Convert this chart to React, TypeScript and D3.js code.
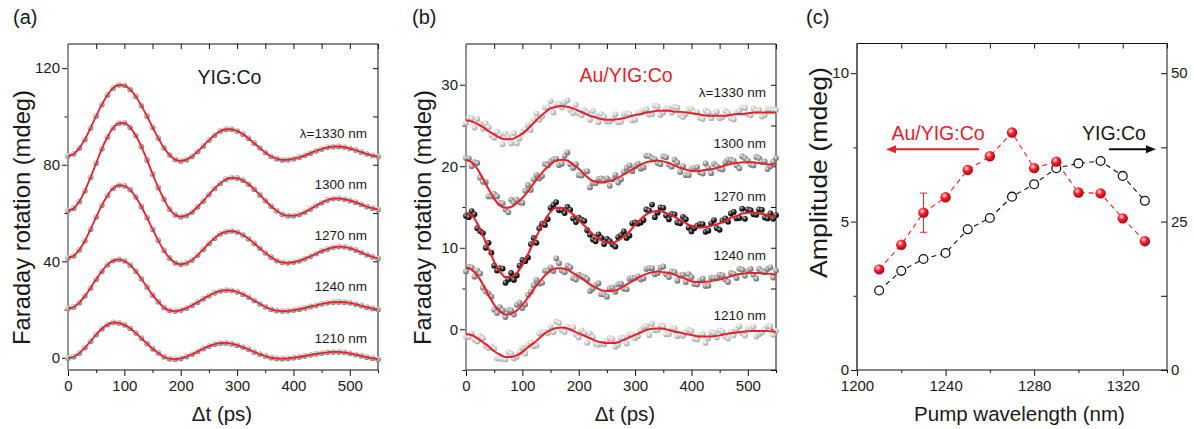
import React, { useEffect, useRef } from "react";
import * as d3 from "d3";

// pump-probe delay grids (ps), shared by panels (a) and (b)
const delays = d3.range(0, 551, 10);
const halfDelays = d3.range(5, 550, 10);

const waveLabels = ["λ=1330 nm", "1300 nm", "1270 nm", "1240 nm", "1210 nm"];

// (a) YIG:Co - traces (mdeg), points lie on the fit
const yig1330 = [83.7, 84.5, 86.9, 90.5, 95.2, 100.2, 104.9, 108.9, 111.8, 113.1, 112.9, 111.2, 108.4, 104.5, 100.2, 95.5, 91.1, 87.1, 84.1, 82.2, 81.6, 82.1, 83.5, 85.5, 87.8, 90.2, 92.3, 94.0, 94.7, 94.7, 94.0, 92.7, 91.0, 89.0, 87.0, 85.1, 83.5, 82.5, 82.0, 82.1, 82.5, 83.1, 83.9, 84.8, 85.8, 86.5, 87.2, 87.5, 87.6, 87.3, 86.8, 86.1, 85.3, 84.5, 83.9, 83.4];
const yig1300 = [61.0, 62.0, 64.8, 69.2, 74.8, 80.7, 86.6, 91.5, 95.3, 97.2, 97.3, 95.5, 92.2, 87.6, 82.1, 76.2, 70.6, 65.8, 61.7, 59.3, 58.5, 59.0, 60.4, 62.6, 65.0, 67.7, 70.2, 72.3, 74.0, 74.7, 74.5, 73.6, 72.0, 69.9, 67.6, 65.2, 62.9, 61.0, 59.5, 58.9, 58.9, 59.4, 60.4, 61.7, 63.1, 64.3, 65.4, 66.0, 66.1, 65.8, 65.2, 64.5, 63.6, 62.7, 62.0, 61.5];
const yig1270 = [41.5, 42.3, 44.8, 48.5, 53.3, 58.4, 63.2, 67.3, 70.3, 71.6, 71.3, 69.7, 66.7, 62.7, 58.2, 53.3, 48.7, 44.6, 41.4, 39.4, 38.8, 39.3, 40.6, 42.6, 45.0, 47.4, 49.6, 51.4, 52.3, 52.6, 52.1, 51.0, 49.4, 47.5, 45.5, 43.5, 41.8, 40.3, 39.6, 39.4, 39.7, 40.2, 41.1, 42.1, 43.2, 44.3, 45.1, 45.8, 46.1, 46.0, 45.5, 44.7, 43.7, 42.7, 41.9, 41.2];
const yig1240 = [20.5, 21.1, 22.9, 25.7, 29.0, 32.6, 35.9, 38.6, 40.3, 40.8, 40.2, 38.5, 36.0, 32.8, 29.4, 26.1, 23.3, 20.9, 19.7, 19.4, 19.8, 20.6, 21.8, 23.1, 24.5, 25.8, 27.0, 27.8, 28.1, 28.0, 27.4, 26.4, 25.2, 23.8, 22.4, 21.2, 20.2, 19.6, 19.4, 19.5, 19.8, 20.2, 20.7, 21.3, 21.8, 22.4, 22.8, 23.1, 23.2, 23.1, 22.8, 22.3, 21.7, 21.0, 20.5, 20.1];
const yig1210 = [0.0, 0.5, 2.0, 4.3, 6.9, 9.7, 12.1, 13.8, 14.7, 14.5, 13.7, 12.3, 10.4, 8.2, 6.0, 3.8, 2.1, 0.5, -0.3, -0.5, -0.2, 0.6, 1.5, 2.7, 3.9, 4.9, 5.7, 6.1, 6.2, 5.9, 5.3, 4.5, 3.6, 2.5, 1.6, 0.8, 0.1, -0.2, -0.3, -0.2, 0.1, 0.4, 0.8, 1.3, 1.7, 2.0, 2.3, 2.5, 2.5, 2.3, 1.9, 1.4, 0.9, 0.3, -0.1, -0.5];

// (b) Au/YIG:Co - fitted curves (mdeg)
const auFit1330 = [25.6, 25.5, 25.2, 24.8, 24.3, 23.9, 23.5, 23.3, 23.3, 23.6, 24.0, 24.6, 25.3, 26.0, 26.6, 27.1, 27.3, 27.4, 27.3, 27.1, 26.8, 26.5, 26.2, 26.0, 25.8, 25.7, 25.7, 25.8, 25.9, 26.1, 26.3, 26.4, 26.6, 26.7, 26.8, 26.8, 26.8, 26.7, 26.7, 26.6, 26.5, 26.4, 26.3, 26.2, 26.2, 26.2, 26.2, 26.3, 26.4, 26.4, 26.5, 26.6, 26.6, 26.6, 26.6, 26.6];
const auFit1300 = [20.8, 20.5, 19.7, 18.5, 17.2, 16.0, 15.2, 14.9, 15.0, 15.5, 16.1, 16.9, 17.9, 18.8, 19.6, 20.2, 20.7, 20.8, 20.7, 20.2, 19.7, 19.0, 18.4, 18.1, 18.0, 18.1, 18.3, 18.6, 19.0, 19.4, 19.8, 20.2, 20.5, 20.6, 20.7, 20.6, 20.4, 20.1, 19.8, 19.6, 19.4, 19.4, 19.5, 19.6, 19.7, 19.9, 20.1, 20.3, 20.4, 20.5, 20.5, 20.5, 20.4, 20.3, 20.2, 20.2];
const auFit1270 = [14.3, 14.0, 13.0, 11.5, 9.9, 8.3, 7.1, 6.4, 6.4, 6.9, 7.9, 9.2, 10.7, 12.1, 13.4, 14.4, 14.9, 14.9, 14.6, 14.1, 13.4, 12.7, 12.0, 11.4, 10.9, 10.6, 10.6, 10.9, 11.4, 12.0, 12.8, 13.5, 14.1, 14.4, 14.5, 14.4, 14.1, 13.8, 13.4, 13.0, 12.7, 12.5, 12.5, 12.6, 12.8, 13.0, 13.3, 13.7, 13.9, 14.2, 14.3, 14.3, 14.2, 14.1, 13.9, 13.8];
const auFit1240 = [7.6, 7.3, 6.6, 5.5, 4.2, 3.0, 2.2, 1.8, 1.9, 2.3, 3.0, 3.9, 4.9, 5.8, 6.6, 7.2, 7.5, 7.5, 7.3, 6.9, 6.5, 6.0, 5.5, 5.1, 4.8, 4.7, 4.7, 4.9, 5.3, 5.7, 6.1, 6.5, 6.8, 7.0, 7.1, 7.0, 6.9, 6.7, 6.4, 6.2, 5.9, 5.8, 5.8, 5.85, 6.0, 6.1, 6.3, 6.5, 6.7, 6.8, 6.9, 6.9, 6.9, 6.8, 6.8, 6.7];
const auFit1210 = [-0.6, -0.7, -1.1, -1.6, -2.1, -2.7, -3.1, -3.4, -3.4, -3.2, -2.8, -2.2, -1.7, -1.1, -0.5, -0.1, 0.15, 0.2, 0.1, -0.2, -0.5, -0.8, -1.1, -1.4, -1.6, -1.7, -1.7, -1.6, -1.3, -1.0, -0.7, -0.4, -0.1, 0.05, 0.1, 0.05, -0.1, -0.3, -0.4, -0.6, -0.7, -0.85, -0.9, -0.9, -0.85, -0.75, -0.6, -0.5, -0.4, -0.3, -0.25, -0.2, -0.2, -0.2, -0.25, -0.3];

// (b) measured points on the 10 ps grid (mdeg)
const auMeas1330 = [25.3, 25.9, 25.8, 24.6, 24.8, 23.5, 23.8, 24.0, 22.8, 22.8, 24.2, 25.1, 25.7, 25.7, 27.2, 28.0, 27.6, 27.2, 28.1, 26.5, 26.5, 26.9, 25.7, 26.2, 26.4, 25.5, 25.8, 25.4, 26.4, 26.4, 25.7, 26.6, 27.0, 26.4, 27.3, 26.6, 27.1, 27.3, 26.3, 26.4, 27.0, 26.6, 25.8, 26.6, 26.5, 25.9, 26.8, 25.9, 26.6, 27.2, 26.4, 27.1, 26.9, 26.3, 27.0, 26.9];
const auMeas1300 = [21.0, 20.0, 20.4, 18.1, 16.3, 16.6, 15.5, 14.7, 15.9, 15.9, 15.5, 17.7, 18.4, 18.5, 20.3, 20.6, 20.9, 20.3, 21.7, 19.8, 18.9, 19.3, 17.4, 17.9, 18.5, 18.5, 18.4, 18.0, 19.3, 20.1, 20.0, 19.7, 21.3, 21.0, 20.4, 21.2, 20.2, 20.8, 19.3, 18.9, 19.7, 19.9, 19.1, 19.8, 20.3, 19.7, 20.5, 20.8, 20.1, 21.2, 20.7, 20.1, 21.0, 20.6, 20.0, 21.0];
const auMeas1270 = [13.9, 14.5, 12.4, 11.8, 10.6, 7.8, 7.5, 5.7, 6.9, 6.6, 8.5, 8.8, 11.2, 12.4, 12.8, 14.9, 15.6, 14.6, 15.0, 13.6, 13.7, 13.3, 11.6, 10.8, 11.2, 11.1, 10.4, 11.3, 12.0, 11.5, 13.1, 13.1, 14.7, 15.3, 14.3, 14.9, 13.5, 14.1, 13.0, 13.5, 12.0, 12.7, 12.9, 12.1, 13.4, 12.2, 13.6, 14.2, 13.6, 14.8, 14.7, 14.1, 14.7, 13.7, 14.2, 14.0];
const auMeas1240 = [7.1, 7.6, 7.2, 5.1, 4.4, 2.4, 2.7, 1.5, 2.3, 3.0, 2.6, 4.2, 5.4, 5.6, 7.2, 7.6, 8.7, 7.2, 7.8, 6.3, 6.7, 6.4, 4.7, 5.4, 4.3, 4.0, 5.1, 5.5, 5.0, 6.2, 6.3, 6.1, 7.4, 7.5, 6.9, 7.7, 6.4, 7.0, 6.6, 5.8, 6.4, 5.5, 6.2, 5.35, 6.3, 6.7, 6.1, 6.9, 6.3, 7.3, 7.2, 6.7, 7.4, 7.0, 7.6, 7.2];
const auMeas1210 = [-0.9, -0.5, -1.5, -1.1, -2.3, -2.4, -3.6, -3.7, -3.0, -3.4, -2.3, -1.9, -2.1, -0.5, -0.3, 0.3, 0.95, -0.1, 0.3, 0.2, -1.0, -0.5, -0.5, -1.8, -1.8, -1.4, -1.2, -1.9, -1.1, -0.6, -1.1, -0.1, 0.4, 0.65, -0.1, 0.35, -0.6, 0.1, -0.7, -0.4, -0.2, -1.25, -0.6, -1.1, -0.45, -0.15, -0.9, -0.3, 0.0, -0.5, 0.05, 0.3, -0.6, 0.0, 0.35, -0.2];

// (b) measured points in between (5, 15, ... 545 ps)
const auMid1330 = [25.95, 24.75, 25.2, 25.25, 23.8, 24.2, 22.7, 23.6, 24.05, 23.4, 24.5, 24.45, 26.45, 26.1, 27.25, 26.6, 27.65, 27.85, 26.9, 27.55, 26.25, 26.55, 26.8, 25.4, 26.05, 25.5, 26.35, 25.45, 26.5, 25.6, 26.55, 26.9, 26.35, 27.45, 26.3, 27.1, 26.55, 27.2, 26.05, 26.95, 26.65, 25.95, 26.85, 25.9, 26.7, 26.0, 26.55, 25.75, 26.8, 27.15, 26.25, 26.8, 26.1, 27.0, 26.9];
const auMid1300 = [20.95, 20.5, 18.6, 18.05, 16.3, 16.3, 15.45, 14.35, 15.55, 15.6, 17.0, 17.1, 18.95, 18.8, 20.1, 20.85, 20.15, 21.25, 20.25, 20.25, 18.85, 19.4, 17.95, 18.45, 18.25, 17.6, 18.95, 18.4, 19.8, 19.4, 20.3, 19.85, 21.25, 20.85, 20.25, 21.1, 19.95, 20.45, 20.0, 18.9, 19.8, 19.25, 20.35, 19.15, 20.0, 19.6, 20.8, 20.65, 19.75, 21.0, 20.2, 21.15, 20.55, 19.65, 20.6];
const auMid1270 = [13.75, 14.1, 12.05, 10.0, 9.4, 7.2, 7.45, 6.1, 6.05, 7.8, 8.35, 10.45, 10.6, 12.95, 13.5, 15.25, 14.6, 14.25, 14.65, 13.15, 13.45, 12.15, 11.0, 11.65, 10.45, 10.8, 10.15, 11.55, 11.2, 13.0, 12.95, 13.4, 14.55, 13.75, 14.95, 13.95, 14.15, 13.1, 13.8, 12.45, 12.4, 12.9, 11.95, 13.0, 12.4, 13.35, 13.2, 14.4, 13.65, 13.55, 14.6, 14.05, 14.65, 13.6, 13.55];
const auMid1240 = [7.65, 6.45, 6.85, 4.65, 4.0, 2.0, 2.3, 2.35, 1.8, 3.25, 3.05, 4.6, 6.05, 5.7, 7.2, 7.15, 8.1, 7.0, 7.6, 6.1, 6.45, 6.15, 5.0, 5.65, 4.25, 5.0, 4.6, 5.6, 4.9, 6.3, 6.5, 6.25, 7.5, 6.75, 7.55, 6.75, 7.1, 5.95, 6.7, 6.75, 5.55, 6.0, 5.32, 6.32, 6.35, 6.6, 5.8, 6.8, 7.45, 6.55, 7.4, 6.2, 7.15, 7.4, 6.35];
const auMid1210 = [-0.95, -1.3, -0.85, -2.05, -2.1, -3.6, -3.65, -2.8, -3.6, -2.8, -3.0, -1.65, -2.0, -0.4, -0.5, -0.37, 0.78, -0.35, 0.15, -0.65, -0.15, -1.65, -0.95, -1.9, -1.85, -1.1, -2.15, -1.05, -1.75, -0.65, -0.85, 0.25, -0.73, -0.12, 0.48, -0.63, 0.1, -0.85, -0.8, -0.05, -1.18, -0.68, -1.7, -0.38, -1.0, -0.28, -1.15, -0.75, 0.35, -0.78, 0.08, -0.9, -0.4, 0.38, -0.68];

// (c) oscillation amplitude vs pump wavelength
const pumpWl = [1210, 1220, 1230, 1240, 1250, 1260, 1270, 1280, 1290, 1300, 1310, 1320, 1330];
const ampAu = [3.39, 4.22, 5.3, 5.82, 6.74, 7.2, 8.0, 6.8, 7.02, 5.98, 5.95, 5.11, 4.34]; // left axis
const ampYig = [13.4, 16.7, 18.7, 19.7, 23.7, 25.6, 29.2, 31.3, 34.0, 34.8, 35.2, 32.7, 28.5]; // right axis
const errWl = [1230];
const errAu = [0.66];

// tick values
const tTicks = [0, 100, 200, 300, 400, 500];
const tMinor = [50, 150, 250, 350, 450, 550];
const tTop = [0, 50, 100, 150, 200, 250, 300, 350, 400, 450, 500, 550];
const aTicks = [0, 40, 80, 120];
const aMinor = [20, 60, 100];
const bTicks = [0, 10, 20, 30];
const bMinor = [-5, 5, 15, 25];
const wlTicks = [1200, 1240, 1280, 1320];
const wlMinor = [1220, 1260, 1300, 1340];
const wlTop = [1200, 1220, 1240, 1260, 1280, 1300, 1320, 1340];
const ampTicks = [0, 5, 10];
const ampMinor = [2.5, 7.5];
const ampRTicks = [0, 12.5, 25, 37.5, 50];
const ampRLabels = [0, 25, 50];

const FONT = "'Liberation Sans', Arial, Helvetica, sans-serif";
const RED = "#e8202a";

const App = () => {
  const svgRef = useRef(null);

  useEffect(() => {
    const svg = d3.select(svgRef.current);
    svg.selectAll("*").remove();

    const defs = svg.append("defs");
    const sphere = (id, light, mid, dark) => {
      const gr = defs.append("radialGradient").attr("id", id)
        .attr("cx", "38%").attr("cy", "34%").attr("r", "66%");
      gr.append("stop").attr("offset", "0%").attr("stop-color", light);
      gr.append("stop").attr("offset", "45%").attr("stop-color", mid);
      gr.append("stop").attr("offset", "100%").attr("stop-color", dark);
    };
    sphere("gA", "#f4f4f4", "#bdbdbd", "#808080");
    sphere("gLight", "#ffffff", "#d4d4d4", "#a6a6a6");
    sphere("gMid", "#f0f0f0", "#a6a6a6", "#6a6a6a");
    sphere("gBlack", "#c8c8c8", "#333333", "#000000");
    sphere("gRed", "#ffe0e0", "#f0262e", "#b0000e");

    const noDomain = (s) => s.select(".domain").remove();
    const blank = () => "";

    // frame + ticks for one panel
    const frame = (g, x, y, c) => {
      const [xl, xr] = x.range();
      const [yb, yt] = y.range();
      g.append("g").attr("transform", `translate(0,${yb})`)
        .call(d3.axisBottom(x).tickValues(c.xMinor).tickSize(3).tickFormat(blank)).call(noDomain);
      g.append("g").attr("transform", `translate(0,${yb})`)
        .call(d3.axisBottom(x).tickValues(c.xMajor).tickSize(6).tickPadding(4).tickFormat(d3.format("d"))).call(noDomain);
      g.append("g").attr("transform", `translate(0,${yt})`)
        .call(d3.axisTop(x).tickValues(c.xTop).tickSize(-5).tickFormat(blank)).call(noDomain);
      g.append("g").attr("transform", `translate(${xl},0)`)
        .call(d3.axisLeft(y).tickValues(c.yMinor).tickSize(3.5).tickFormat(blank)).call(noDomain);
      g.append("g").attr("transform", `translate(${xl},0)`)
        .call(d3.axisLeft(y).tickValues(c.yMajor).tickSize(6).tickPadding(2).tickFormat(d3.format("d"))).call(noDomain);
      if (c.yRight) {
        g.append("g").attr("transform", `translate(${xr},0)`)
          .call(d3.axisRight(y).tickValues(c.yRight).tickSize(-5).tickFormat(blank)).call(noDomain);
      }
      g.append("path")
        .attr("d", `M${xl},${yt}H${xr}V${yb}H${xl}`)
        .attr("fill", "none").attr("stroke", "#111").attr("stroke-width", 1);
      g.append("line")
        .attr("x1", xl).attr("x2", xl).attr("y1", yt).attr("y2", yb + 0.5)
        .attr("stroke", c.leftColor).attr("stroke-width", 1.8);
    };

    const styleTicks = () => {
      svg.selectAll(".tick text")
        .attr("font-family", FONT).attr("font-size", 15).attr("fill", "#1a1a1a");
      svg.selectAll(".tick line").attr("stroke", "#111");
    };

    const text = (g, str, x, y, o = {}) => {
      const t = g.append("text").attr("x", x).attr("y", y)
        .attr("font-family", FONT).attr("font-size", o.size || 15)
        .attr("fill", o.fill || "#1a1a1a")
        .attr("text-anchor", o.anchor || "start")
        .text(str);
      if (o.rotate) t.attr("transform", `rotate(-90,${x},${y})`);
      if (o.len) t.attr("textLength", o.len).attr("lengthAdjust", "spacingAndGlyphs");
      return t;
    };

    // ---------- (a) ----------
    const xA = d3.scaleLinear().domain([0, 550]).range([68, 378]);
    const yA = d3.scaleLinear().domain([-5, 130]).range([370, 44]);
    const gA = svg.append("g");
    frame(gA, xA, yA, {
      xMajor: tTicks, xMinor: tMinor, xTop: tTop,
      yMajor: aTicks, yMinor: aMinor, yRight: d3.merge([aTicks, aMinor]),
      leftColor: "#8a8a8a",
    });
    const lineA = d3.line().x((d) => xA(d[0])).y((d) => yA(d[1])).curve(d3.curveMonotoneX);
    [yig1330, yig1300, yig1270, yig1240, yig1210].forEach((vals) => {
      const pts = vals.map((v, i) => [delays[i], v]);
      gA.append("g").selectAll("circle").data(pts).join("circle")
        .attr("cx", (d) => xA(d[0])).attr("cy", (d) => yA(d[1]))
        .attr("r", 2.9).attr("fill", "url(#gA)");
      gA.append("path").attr("d", lineA(pts))
        .attr("fill", "none").attr("stroke", RED).attr("stroke-width", 1.8);
    });
    [138, 189, 239.5, 290.7, 342.7].forEach((by, i) =>
      text(gA, waveLabels[i], 367, by, { anchor: "end", size: 13.5 }));
    text(gA, "YIG:Co", 229.5, 83.5, { anchor: "middle", size: 19.5 });
    text(gA, "(a)", 13, 24, { size: 20 });
    text(gA, "Faraday rotation (mdeg)", 30, 217.5, { anchor: "middle", size: 24, rotate: true, len: 255 });
    text(gA, "Δt (ps)", 222, 421, { anchor: "middle", size: 20.5 });

    // ---------- (b) ----------
    const xB = d3.scaleLinear().domain([0, 550]).range([466, 776]);
    const yB = d3.scaleLinear().domain([-5, 35]).range([370, 44]);
    const gB = svg.append("g");
    frame(gB, xB, yB, {
      xMajor: tTicks, xMinor: tMinor, xTop: tTop,
      yMajor: bTicks, yMinor: bMinor, yRight: d3.merge([bTicks, bMinor]),
      leftColor: "#8a8a8a",
    });
    const lineB = d3.line().x((d) => xB(d[0])).y((d) => yB(d[1]));
    const fitB = d3.line().x((d) => xB(d[0])).y((d) => yB(d[1])).curve(d3.curveMonotoneX);
    const tracesB = [
      [auMeas1330, auMid1330, auFit1330, "url(#gLight)", "#c4c4c4"],
      [auMeas1300, auMid1300, auFit1300, "url(#gMid)", "#9a9a9a"],
      [auMeas1270, auMid1270, auFit1270, "url(#gBlack)", "#444"],
      [auMeas1240, auMid1240, auFit1240, "url(#gMid)", "#9a9a9a"],
      [auMeas1210, auMid1210, auFit1210, "url(#gLight)", "#c4c4c4"],
    ];
    tracesB.forEach(([meas, mid, fit, fill, stroke]) => {
      const pts = meas.map((v, i) => [delays[i], v])
        .concat(mid.map((v, i) => [halfDelays[i], v]))
        .sort((p, q) => p[0] - q[0]);
      gB.append("path").attr("d", lineB(pts))
        .attr("fill", "none").attr("stroke", stroke).attr("stroke-width", 0.5).attr("opacity", 0.5);
      gB.append("g").selectAll("circle").data(pts).join("circle")
        .attr("cx", (d) => xB(d[0])).attr("cy", (d) => yB(d[1]))
        .attr("r", 2.9).attr("fill", fill);
      gB.append("path").attr("d", fitB(fit.map((v, i) => [delays[i], v])))
        .attr("fill", "none").attr("stroke", RED).attr("stroke-width", 2);
    });
    [97, 148.3, 200.7, 260, 320].forEach((by, i) =>
      text(gB, waveLabels[i], 766, by, { anchor: "end", size: 13.5 }));
    text(gB, "Au/YIG:Co", 626, 82, { anchor: "middle", size: 19.5, fill: RED });
    text(gB, "(b)", 412, 24, { size: 20 });
    text(gB, "Faraday rotation (mdeg)", 431, 217.5, { anchor: "middle", size: 24, rotate: true, len: 255 });
    text(gB, "Δt (ps)", 625, 421, { anchor: "middle", size: 20.5 });

    // ---------- (c) ----------
    const xC = d3.scaleLinear().domain([1200, 1340]).range([857, 1167]);
    const yC = d3.scaleLinear().domain([0, 11]).range([370, 43.5]);
    const yR = d3.scaleLinear().domain([0, 55]).range([370, 43.5]);
    const gC = svg.append("g");
    frame(gC, xC, yC, {
      xMajor: wlTicks, xMinor: wlMinor, xTop: wlTop,
      yMajor: ampTicks, yMinor: ampMinor, yRight: null,
      leftColor: "#555",
    });
    gC.append("g").attr("transform", `translate(1167,0)`)
      .call(d3.axisRight(yR).tickValues(ampRTicks).tickSize(-6).tickPadding(4)
        .tickFormat((d) => (ampRLabels.includes(d) ? d3.format("d")(d) : "")))
      .call(noDomain);

    const auPts = pumpWl.map((w, i) => [w, ampAu[i]]);
    const yigPts = pumpWl.map((w, i) => [w, ampYig[i]]);
    gC.append("path")
      .attr("d", d3.line().x((d) => xC(d[0])).y((d) => yR(d[1]))(yigPts))
      .attr("fill", "none").attr("stroke", "#111").attr("stroke-width", 1.1)
      .attr("stroke-dasharray", "5,4");
    gC.append("path")
      .attr("d", d3.line().x((d) => xC(d[0])).y((d) => yC(d[1]))(auPts))
      .attr("fill", "none").attr("stroke", RED).attr("stroke-width", 1.1)
      .attr("stroke-dasharray", "5,4");
    errWl.forEach((w, k) => {
      const v = ampAu[pumpWl.indexOf(w)];
      const e = errAu[k];
      const cx = xC(w);
      gC.append("path")
        .attr("d", `M${cx},${yC(v - e)}V${yC(v + e)}M${cx - 3.5},${yC(v + e)}H${cx + 3.5}M${cx - 3.5},${yC(v - e)}H${cx + 3.5}`)
        .attr("fill", "none").attr("stroke", RED).attr("stroke-width", 1);
    });
    gC.append("g").selectAll("circle").data(yigPts).join("circle")
      .attr("cx", (d) => xC(d[0])).attr("cy", (d) => yR(d[1]))
      .attr("r", 4.4).attr("fill", "#fff").attr("stroke", "#111").attr("stroke-width", 1.3);
    gC.append("g").selectAll("circle").data(auPts).join("circle")
      .attr("cx", (d) => xC(d[0])).attr("cy", (d) => yC(d[1]))
      .attr("r", 5.2).attr("fill", "url(#gRed)");

    // legend arrows
    gC.append("line").attr("x1", 979).attr("x2", 894).attr("y1", 149.3).attr("y2", 149.3)
      .attr("stroke", RED).attr("stroke-width", 2);
    gC.append("path").attr("d", "M886,149.3L896,145.3V153.3Z").attr("fill", RED);
    gC.append("line").attr("x1", 1109).attr("x2", 1148).attr("y1", 149.3).attr("y2", 149.3)
      .attr("stroke", "#111").attr("stroke-width", 2);
    gC.append("path").attr("d", "M1156,149.3L1146,145.3V153.3Z").attr("fill", "#111");
    text(gC, "Au/YIG:Co", 938, 140, { anchor: "middle", size: 19.5, fill: RED });
    text(gC, "YIG:Co", 1114, 140, { anchor: "middle", size: 19.5 });
    text(gC, "(c)", 806, 24, { size: 20 });
    text(gC, "Amplitude (mdeg)", 827, 172.5, { anchor: "middle", size: 23, rotate: true, len: 211 });
    text(gC, "Pump wavelength (nm)", 1019.5, 421, { anchor: "middle", size: 20.5 });

    styleTicks();
  }, []);

  return (
    <div style={{ position: "absolute", left: 0, top: 0 }}>
      <svg ref={svgRef} width={1194} height={429} style={{ display: "block", background: "#fff" }} />
    </div>
  );
};

export default App;
